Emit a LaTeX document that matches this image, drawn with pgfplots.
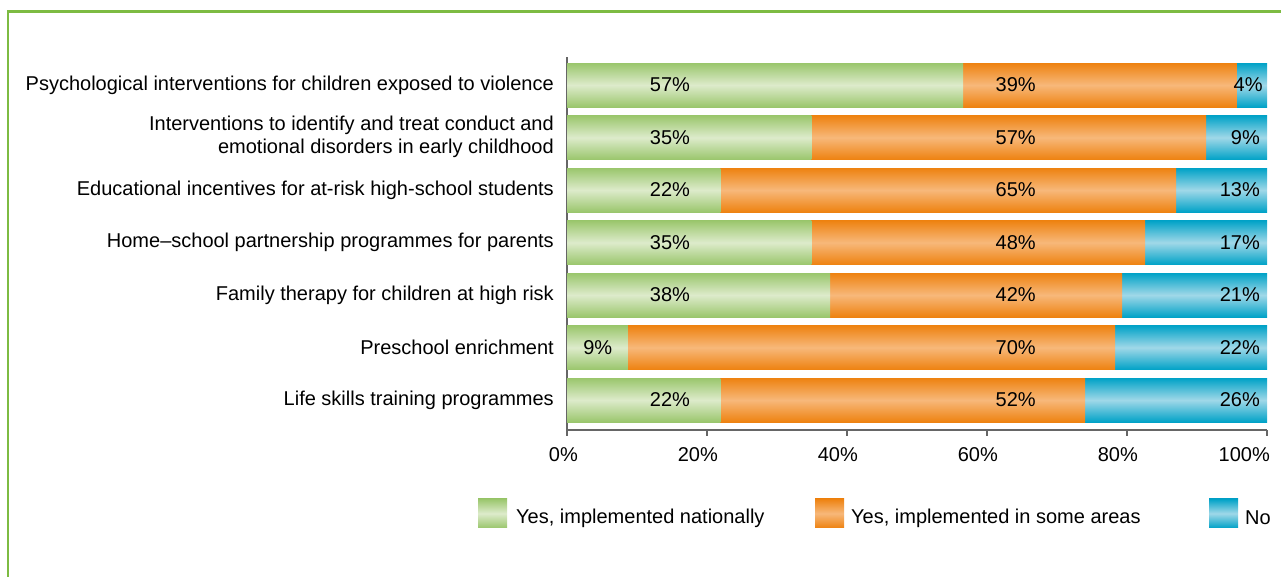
\documentclass[border=0pt]{standalone}
\usepackage{pgfplots}
\pgfplotsset{compat=1.18}
\usepackage{fontspec}
\setmainfont{Liberation Sans}
\definecolor{gE}{HTML}{9AC66C}
\definecolor{gM}{HTML}{DDEBCB}
\definecolor{oE}{HTML}{EE8210}
\definecolor{oM}{HTML}{F7B87A}
\definecolor{bE}{HTML}{00A2C7}
\definecolor{bM}{HTML}{A0D8E8}
\definecolor{frameG}{HTML}{7DBB42}
\definecolor{axG}{HTML}{666666}
\tikzset{vl/.style={font=\fontsize{20}{24}\selectfont, inner sep=0pt},
  gs/.style={draw=none, top color=gE, bottom color=gE, middle color=gM},
  os/.style={draw=none, top color=oE, bottom color=oE, middle color=oM},
  bs/.style={draw=none, top color=bE, bottom color=bE, middle color=bM}}
\begin{document}
\begin{tikzpicture}[x=1pt,y=1pt]
\path[use as bounding box] (0,0) rectangle (1281,577);
\draw[frameG, line width=2.5pt] (8,0) -- (8,565.5) -- (1281,565.5);
\begin{axis}[
  at={(567pt,147pt)}, anchor=south west,
  scale only axis, width=700pt, height=372.75pt,
  xbar, bar width=0.84,
  every axis plot/.append style={bar shift=0pt},
  xmin=0, xmax=100, ymin=-0.57, ymax=6.53,
  axis x line*=bottom, axis y line*=left,
  axis line style={draw=axG, line width=1.2pt},
  xtick={0,20,...,80},
  extra x ticks={100},
  extra x tick style={xticklabel style={xshift=-8pt}},
  xticklabel={\pgfmathprintnumber{\tick}\%},
  /pgf/number format/assume math mode=true,
  tick align=outside, major tick length=6pt,
  xtick style={draw=axG, line width=1.2pt},
  ytick style={draw=none},
  xticklabel style={font=\fontsize{20}{24}\selectfont, inner sep=0pt, anchor=north east, xshift=11pt, yshift=-11pt},
  ytick={0,...,6},
  yticklabels={Life skills training programmes, Preschool enrichment, Family therapy for children at high risk, Home–school partnership programmes for parents, Educational incentives for at-risk high-school students, {\raisebox{-4pt}{\begin{tabular}{@{}r@{}}Interventions to identify and treat conduct and\\emotional disorders in early childhood\end{tabular}}}, Psychological interventions for children exposed to violence},
  yticklabel style={align=right, font=\fontsize{20}{23}\selectfont, inner sep=0pt, xshift=-7pt},
  clip=false,
]
% "No" segment (drawn full width underneath; segment = 100 - cumulative)
\addplot[bs] coordinates {(100,6)};
\addplot[bs] coordinates {(100,5)};
\addplot[bs] coordinates {(100,4)};
\addplot[bs] coordinates {(100,3)};
\addplot[bs] coordinates {(100,2)};
\addplot[bs] coordinates {(100,1)};
\addplot[bs] coordinates {(100,0)};
% "Yes, in some areas": cumulative end (nationally + some areas)
\addplot[os] coordinates {(95.7,6)};
\addplot[os] coordinates {(91.3,5)};
\addplot[os] coordinates {(87.0,4)};
\addplot[os] coordinates {(82.6,3)};
\addplot[os] coordinates {(79.3,2)};
\addplot[os] coordinates {(78.3,1)};
\addplot[os] coordinates {(74.0,0)};
% "Yes, nationally"
\addplot[gs] coordinates {(56.6,6)};
\addplot[gs] coordinates {(34.9,5)};
\addplot[gs] coordinates {(21.9,4)};
\addplot[gs] coordinates {(34.9,3)};
\addplot[gs] coordinates {(37.6,2)};
\addplot[gs] coordinates {(8.7,1)};
\addplot[gs] coordinates {(21.9,0)};
\node[vl] at (axis cs:14.7,6) {57\%};
\node[vl] at (axis cs:14.7,5) {35\%};
\node[vl] at (axis cs:14.7,4) {22\%};
\node[vl] at (axis cs:14.7,3) {35\%};
\node[vl] at (axis cs:14.7,2) {38\%};
\node[vl] at (axis cs:4.4,1) {9\%};
\node[vl] at (axis cs:14.7,0) {22\%};
\node[vl] at (axis cs:64.1,6) {39\%};
\node[vl] at (axis cs:64.1,5) {57\%};
\node[vl] at (axis cs:64.1,4) {65\%};
\node[vl] at (axis cs:64.1,3) {48\%};
\node[vl] at (axis cs:64.1,2) {42\%};
\node[vl] at (axis cs:64.1,1) {70\%};
\node[vl] at (axis cs:64.1,0) {52\%};
\node[vl, anchor=east] at (axis cs:99.4,6) {4\%};
\node[vl, anchor=east] at (axis cs:99.0,5) {9\%};
\node[vl, anchor=east] at (axis cs:99.0,4) {13\%};
\node[vl, anchor=east] at (axis cs:99.0,3) {17\%};
\node[vl, anchor=east] at (axis cs:99.0,2) {21\%};
\node[vl, anchor=east] at (axis cs:99.0,1) {22\%};
\node[vl, anchor=east] at (axis cs:99.0,0) {26\%};
\end{axis}
% legend
\shade[top color=gE, bottom color=gE, middle color=gM] (478,49) rectangle (507,78);
\node[vl, anchor=west] at (516,59) {Yes, implemented nationally};
\shade[top color=oE, bottom color=oE, middle color=oM] (815,49) rectangle (844,78);
\node[vl, anchor=west] at (851,59) {Yes, implemented in some areas};
\shade[top color=bE, bottom color=bE, middle color=bM] (1209,49) rectangle (1238,78);
\node[vl, anchor=west] at (1245,59) {No};
\end{tikzpicture}
\end{document}
